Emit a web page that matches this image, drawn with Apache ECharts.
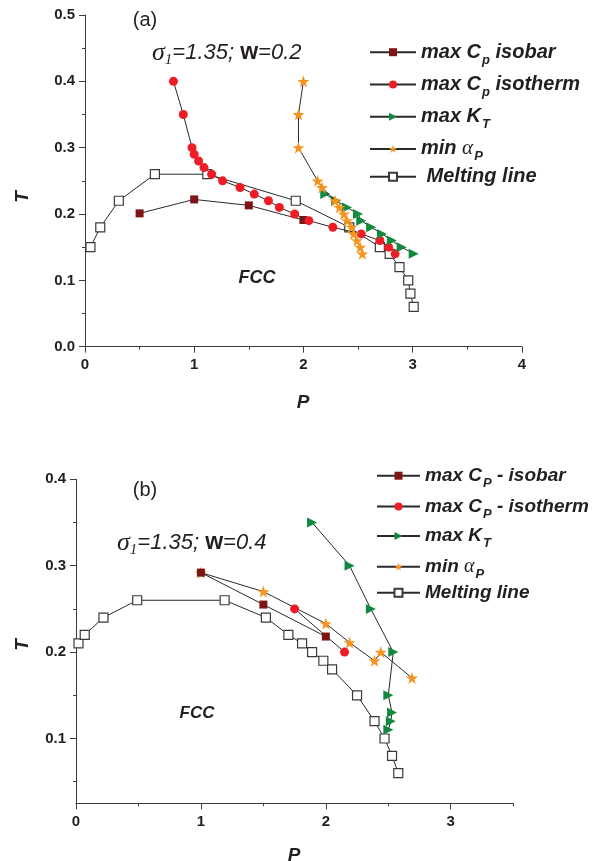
<!DOCTYPE html>
<html>
<head>
<meta charset="utf-8">
<script src="https://cdn.jsdelivr.net/npm/echarts@6/dist/echarts.min.js"></script>
<style>
  html, body { margin: 0; padding: 0; background: #fff; }
  #chart { width: 599px; height: 861px; }
</style>
</head>
<body>
<div id="chart"></div>
<script>
// ---- Panel (a): sigma1 = 1.35, w = 0.2 ----
const aMeltP = [0.05, 0.14, 0.31, 0.64, 1.12, 1.93, 2.42, 2.70, 2.79, 2.88, 2.96, 2.98, 3.01];
const aMeltT = [0.15, 0.18, 0.22, 0.26, 0.26, 0.22, 0.18, 0.15, 0.14, 0.12, 0.10, 0.08, 0.06];
const aIsobarP = [0.5, 1.0, 1.5, 2.0];
const aIsobarT = [0.201, 0.222, 0.213, 0.191];
const aIsothermP = [0.81, 0.90, 0.98, 1.00, 1.04, 1.09, 1.16, 1.26, 1.42, 1.55, 1.68, 1.78, 1.92, 2.05, 2.27, 2.53, 2.70, 2.78, 2.84];
const aIsothermT = [0.40, 0.35, 0.30, 0.29, 0.28, 0.27, 0.26, 0.25, 0.24, 0.23, 0.22, 0.21, 0.20, 0.19, 0.18, 0.17, 0.16, 0.15, 0.14];
const aKtP = [2.20, 2.30, 2.40, 2.50, 2.53, 2.62, 2.72, 2.81, 2.90, 3.01];
const aKtT = [0.23, 0.22, 0.21, 0.20, 0.19, 0.18, 0.17, 0.16, 0.15, 0.14];
const aAlphaP = [2.00, 1.955, 1.955, 2.13, 2.17, 2.29, 2.33, 2.37, 2.40, 2.44, 2.46, 2.49, 2.52, 2.54];
const aAlphaT = [0.40, 0.35, 0.30, 0.25, 0.24, 0.22, 0.21, 0.20, 0.19, 0.18, 0.17, 0.16, 0.15, 0.14];

// ---- Panel (b): sigma1 = 1.35, w = 0.4 ----
const bMeltP = [0.02, 0.07, 0.22, 0.49, 1.19, 1.52, 1.70, 1.81, 1.89, 1.98, 2.05, 2.25, 2.39, 2.47, 2.53, 2.58];
const bMeltT = [0.21, 0.22, 0.24, 0.26, 0.26, 0.24, 0.22, 0.21, 0.20, 0.19, 0.18, 0.15, 0.12, 0.10, 0.08, 0.06];
const bIsobarP = [1.0, 1.5, 2.0];
const bIsobarT = [0.292, 0.255, 0.218];
const bIsothermP = [1.75, 2.15];
const bIsothermT = [0.25, 0.20];
const bKtP = [1.89, 2.19, 2.36, 2.54, 2.50, 2.53, 2.52, 2.50];
const bKtT = [0.35, 0.30, 0.25, 0.20, 0.15, 0.13, 0.12, 0.11];
const bAlphaP = [1.0, 1.5, 2.0, 2.19, 2.39, 2.44, 2.69];
const bAlphaT = [0.292, 0.27, 0.233, 0.211, 0.19, 0.20, 0.17];

// ---- Axis ticks ----
const aXTicks = [0, 1, 2, 3, 4];
const aXMinor = [0.5, 1.5, 2.5, 3.5];
const aYTicks = [0, 0.1, 0.2, 0.3, 0.4, 0.5];
const aYMinor = [0.05, 0.15, 0.25, 0.35, 0.45];
const bXTicks = [0, 1, 2, 3];
const bXMinor = [0.5, 1.5, 2.5, 3.5];
const bYTicks = [0.1, 0.2, 0.3, 0.4];
const bYMinor = [0.05, 0.15, 0.25, 0.35];

// ---- Legend names ----
const aNames = ['max Cp isobar', 'max Cp isotherm', 'max KT', 'min aP', 'Melting line'];
const bNames = ['max CP - isobar', 'max CP - isotherm', 'max KT ', 'min aP ', 'Melting line '];

const pairs = (xs, ys) => xs.map((x, i) => [x, ys[i]]);

const INK = '#231f20';
const LINE = '#2a2a2a';
const AXIS = '#3c3c3c';
const C_ISOBAR = '#7d1416';
const C_ISOTHERM = '#ee1c25';
const C_KT = '#13893f';
const C_ALPHA = '#f7941d';

const STAR = 'path://M50,0 L61.8,35.3 L97.6,35.3 L68.8,57.1 L79.4,92.7 L50,71 L20.6,92.7 L31.2,57.1 L2.4,35.3 L38.2,35.3 Z';
const TRI = 'path://M0,0 L10,5 L0,10 Z';

function mkSeries(name, gi, data, symbol, size, color, border, z) {
  return {
    name, type: 'line', xAxisIndex: gi * 2, yAxisIndex: gi * 2, data,
    symbol, symbolSize: size, showSymbol: true, z,
    itemStyle: border ? { color: '#ffffff', borderColor: border, borderWidth: 1.2 } : { color, borderWidth: 0 },
    lineStyle: { color: LINE, width: 1 },
    emphasis: { disabled: true }, animation: false
  };
}

const tickLabel = { fontFamily: 'Liberation Sans', fontWeight: 'bold', fontSize: 15, color: INK };

function majorAxis(gi, min, max, ticks, fmt, pos) {
  return {
    type: 'value', gridIndex: gi, min, max, position: pos,
    axisLine: { show: true, onZero: false, lineStyle: { color: AXIS, width: 1 } },
    axisTick: { show: true, inside: false, length: 6, customValues: ticks, lineStyle: { color: AXIS, width: 1 } },
    axisLabel: Object.assign({ customValues: ticks, formatter: fmt, margin: pos === 'left' ? 10 : 11 }, tickLabel),
    splitLine: { show: false }
  };
}
function minorAxis(gi, min, max, ticks, pos) {
  return {
    type: 'value', gridIndex: gi, min, max, position: pos, offset: 0,
    axisLine: { show: false, onZero: false },
    axisTick: { show: true, inside: false, length: 3, customValues: ticks, lineStyle: { color: AXIS, width: 1 } },
    axisLabel: { show: false },
    splitLine: { show: false }
  };
}

const fmtInt = v => String(Math.round(v));
const fmt1 = v => v.toFixed(1);

// legend rich styles, main size fs
function legendRich(fs) {
  const sub = Math.round(fs * 0.66);
  const drop = Math.round(fs * 0.78);
  return {
    m: { fontFamily: 'Liberation Sans', fontWeight: 'bold', fontStyle: 'italic', fontSize: fs, lineHeight: fs, color: INK, verticalAlign: 'middle' },
    s: { fontFamily: 'Liberation Sans', fontWeight: 'bold', fontStyle: 'italic', fontSize: sub, lineHeight: sub, color: INK, verticalAlign: 'middle', padding: [drop, 0, 0, 1] },
    g: { fontFamily: 'Liberation Serif', fontStyle: 'italic', fontSize: fs + 1, lineHeight: fs, color: INK, verticalAlign: 'middle' }
  };
}

const legendText = {
  'max Cp isobar': '{m|max C}{s|p}{m| isobar}',
  'max Cp isotherm': '{m|max C}{s|p}{m| isotherm}',
  'max KT': '{m|max K}{s|T}',
  'min aP': '{m|min }{g|\u03b1}{s|P}',
  'Melting line': '{m| Melting line}',
  'max CP - isobar': '{m|max C}{s|P}{m| - isobar}',
  'max CP - isotherm': '{m|max C}{s|P}{m| - isotherm}',
  'max KT ': '{m|max K}{s|T}',
  'min aP ': '{m|min }{g|\u03b1}{s|P}',
  'Melting line ': '{m|Melting line}'
};

function rowLegend(name, left, cy, w, fs) {
  return {
    data: [name], left, top: cy - Math.round(fs * 0.72), orient: 'vertical', padding: 0,
    itemWidth: w, itemHeight: 10, itemGap: 0, selectedMode: false,
    formatter: n => legendText[n],
    textStyle: { rich: legendRich(fs) }
  };
}

const aRows = [51.7, 83.9, 116.2, 148.4, 180.7];
const bRows = [475.7, 506.5, 536, 566.7, 597.3];

const sigmaRich = {
  g: { fontFamily: 'Liberation Serif', fontStyle: 'italic', fontSize: 26, color: INK, verticalAlign: 'middle', lineHeight: 24 },
  i: { fontFamily: 'Liberation Serif', fontStyle: 'italic', fontSize: 15, color: INK, verticalAlign: 'middle', lineHeight: 15, padding: [15, 0, 0, 0] },
  t: { fontFamily: 'Liberation Sans', fontStyle: 'italic', fontSize: 22, color: INK, verticalAlign: 'middle', lineHeight: 24 },
  w: { fontFamily: 'Liberation Sans', fontWeight: 'bold', fontSize: 23, color: INK, verticalAlign: 'middle', lineHeight: 24 }
};

function txt(x, y, text, font, extra) {
  return Object.assign({
    type: 'text', x, y, silent: true,
    style: Object.assign({ text, fill: INK, align: 'center', verticalAlign: 'middle' }, font)
  }, extra || {});
}

const chart = echarts.init(document.getElementById('chart'), null, { renderer: 'canvas' });

chart.setOption({
  animation: false,
  backgroundColor: '#ffffff',
  grid: [
    { left: 85, top: 15, width: 436.8, height: 331.7 },
    { left: 76, top: 479.3, width: 437.2, height: 324 }
  ],
  xAxis: [
    majorAxis(0, 0, 4, aXTicks, fmtInt, 'bottom'),
    minorAxis(0, 0, 4, aXMinor, 'bottom'),
    majorAxis(1, 0, 3.5, bXTicks, fmtInt, 'bottom'),
    minorAxis(1, 0, 3.5, bXMinor, 'bottom')
  ],
  yAxis: [
    majorAxis(0, 0, 0.5, aYTicks, fmt1, 'left'),
    minorAxis(0, 0, 0.5, aYMinor, 'left'),
    majorAxis(1, 0.025, 0.4, bYTicks, fmt1, 'left'),
    minorAxis(1, 0.025, 0.4, bYMinor, 'left')
  ],
  legend: [
    rowLegend(aNames[0], 369, aRows[0], 46, 20),
    rowLegend(aNames[1], 369, aRows[1], 46, 20),
    rowLegend(aNames[2], 369, aRows[2], 46, 20),
    rowLegend(aNames[3], 369, aRows[3], 46, 20),
    rowLegend(aNames[4], 369, aRows[4], 46, 20),
    rowLegend(bNames[0], 376, bRows[0], 43, 19),
    rowLegend(bNames[1], 376, bRows[1], 43, 19),
    rowLegend(bNames[2], 376, bRows[2], 43, 19),
    rowLegend(bNames[3], 376, bRows[3], 43, 19),
    rowLegend(bNames[4], 376, bRows[4], 43, 19)
  ],
  series: [
    mkSeries(aNames[4], 0, pairs(aMeltP, aMeltT), 'rect', 9, null, '#3a3a3a', 2),
    mkSeries(aNames[0], 0, pairs(aIsobarP, aIsobarT), 'rect', 8, C_ISOBAR, null, 3),
    mkSeries(aNames[1], 0, pairs(aIsothermP, aIsothermT), 'circle', 9, C_ISOTHERM, null, 4),
    mkSeries(aNames[2], 0, pairs(aKtP, aKtT), TRI, 10, C_KT, null, 5),
    mkSeries(aNames[3], 0, pairs(aAlphaP, aAlphaT), STAR, 12, C_ALPHA, null, 6),

    mkSeries(bNames[4], 1, pairs(bMeltP, bMeltT), 'rect', 9, null, '#3a3a3a', 2),
    mkSeries(bNames[3], 1, pairs(bAlphaP, bAlphaT), STAR, 12, C_ALPHA, null, 3),
    mkSeries(bNames[1], 1, pairs(bIsothermP, bIsothermT), 'circle', 9, C_ISOTHERM, null, 4),
    mkSeries(bNames[2], 1, pairs(bKtP, bKtT), TRI, 10, C_KT, null, 5),
    mkSeries(bNames[0], 1, pairs(bIsobarP, bIsobarT), 'rect', 8, C_ISOBAR, null, 6)
  ],
  graphic: [
    txt(145, 20, '(a)', { fontFamily: 'Liberation Sans', fontSize: 20 }),
    txt(145, 490, '(b)', { fontFamily: 'Liberation Sans', fontSize: 20 }),
    txt(152, 53, '{g|\u03c3}{i|1}{t|=1.35; }{w|w}{t|=0.2}', { rich: sigmaRich, align: 'left' }),
    txt(117, 543, '{g|\u03c3}{i|1}{t|=1.35; }{w|w}{t|=0.4}', { rich: sigmaRich, align: 'left' }),
    txt(257, 278, 'FCC', { fontFamily: 'Liberation Sans', fontWeight: 'bold', fontStyle: 'italic', fontSize: 18 }),
    txt(197, 713, 'FCC', { fontFamily: 'Liberation Sans', fontWeight: 'bold', fontStyle: 'italic', fontSize: 17 }),
    txt(23, 197, 'T', { fontFamily: 'Liberation Sans', fontWeight: 'bold', fontStyle: 'italic', fontSize: 19 }, { rotation: Math.PI / 2 }),
    txt(23, 645, 'T', { fontFamily: 'Liberation Sans', fontWeight: 'bold', fontStyle: 'italic', fontSize: 19 }, { rotation: Math.PI / 2 }),
    txt(303, 403, 'P', { fontFamily: 'Liberation Sans', fontWeight: 'bold', fontStyle: 'italic', fontSize: 19 }),
    txt(294, 856, 'P', { fontFamily: 'Liberation Sans', fontWeight: 'bold', fontStyle: 'italic', fontSize: 19 })
  ]
});
</script>
</body>
</html>
